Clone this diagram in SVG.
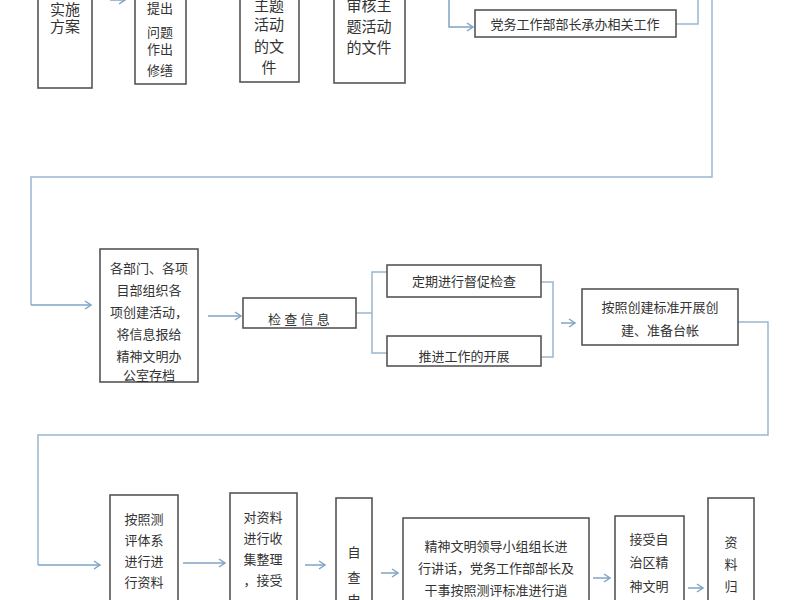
<svg xmlns="http://www.w3.org/2000/svg" width="800" height="600" viewBox="0 0 800 600">
<defs>
<marker id="ar" markerWidth="10" markerHeight="10" refX="8" refY="5" orient="auto" markerUnits="userSpaceOnUse"><path d="M2,1 L8,5 L2,9" fill="none" stroke="#7fa3c4" stroke-width="1.5"/></marker>
<style>
.b{fill:#fff;stroke:#555;stroke-width:1.6}
text{font-family:"Liberation Serif","Noto Sans CJK SC",serif;font-size:13px;fill:#333;text-anchor:middle}
.big{font-size:15px}
.c{fill:none;stroke:#9ab6cf;stroke-width:1.5}
.a{fill:none;stroke:#7fa3c4;stroke-width:1.5;marker-end:url(#ar)}
</style>
</defs>
<rect width="800" height="600" fill="#fff"/>
<g id="connectors">
<path class="a" d="M110,0 L125,0"/>
<path class="a" d="M449,0 L449,27 L473,27"/>
<path class="c" d="M676,24 L698,24 L698,0"/>
<path class="c" d="M712,0 L712,177 L31,177 L31,305"/>
<path class="a" d="M31,305 L91,305"/>
<path class="a" d="M208,316 L241,316"/>
<path class="c" d="M356,313 L372,313 M387,272 L372,272 L372,353 L387,353"/>
<path class="c" d="M541,282 L553,282 L553,357 L541,357"/>
<path class="a" d="M561,323 L575,323"/>
<path class="c" d="M738,322 L768,322 L768,435 L38,435 L38,565"/>
<path class="a" d="M38,565 L100,565"/>
<path class="a" d="M183,563 L225,563"/>
<path class="a" d="M305,565 L325,565"/>
<path class="a" d="M381,573 L398,573"/>
<path class="a" d="M593,578 L610,578"/>
<path class="a" d="M688,588 L703,588"/>
</g>
<g id="n1"><rect class="b" x="38" y="-5" width="54" height="93"/><text class="big" x="65" y="15">实施</text><text class="big" x="65" y="32">方案</text></g>
<g id="n2"><rect class="b" x="135" y="-5" width="51" height="89"/><text x="160" y="13">提出</text><text x="160" y="37">问题</text><text x="160" y="54">作出</text><text x="160" y="75">修缮</text></g>
<g id="n3"><rect class="b" x="240" y="-5" width="59" height="87"/><text class="big" x="269" y="11">主题</text><text class="big" x="269" y="30">活动</text><text class="big" x="269" y="52">的文</text><text class="big" x="269" y="73">件</text></g>
<g id="n4"><rect class="b" x="334" y="-5" width="71" height="88"/><text class="big" x="369" y="11">审核主</text><text class="big" x="369" y="32">题活动</text><text class="big" x="369" y="53">的文件</text></g>
<g id="n5"><rect class="b" x="475" y="10" width="201" height="27"/><text x="575" y="29">党务工作部部长承办相关工作</text></g>
<g id="n6"><rect class="b" x="100" y="249" width="98" height="133"/><text x="149" y="273">各部门、各项</text><text x="149" y="295">目部组织各</text><text x="149" y="317">项创建活动，</text><text x="149" y="339">将信息报给</text><text x="149" y="361">精神文明办</text><text x="149" y="380">公室存档</text></g>
<g id="n7"><rect class="b" x="243" y="298" width="113" height="30"/><text x="299" y="324">检 查 信 息</text></g>
<g id="n8"><rect class="b" x="387" y="265" width="154" height="32"/><text x="464" y="286">定期进行督促检查</text></g>
<g id="n9"><rect class="b" x="387" y="336" width="154" height="30"/><text x="464" y="361">推进工作的开展</text></g>
<g id="n10"><rect class="b" x="582" y="289" width="156" height="56"/><text x="660" y="312">按照创建标准开展创</text><text x="660" y="335">建、准备台帐</text></g>
<g id="n11"><rect class="b" x="110" y="495" width="68" height="110"/><text x="144" y="524">按照测</text><text x="144" y="545">评体系</text><text x="144" y="566">进行进</text><text x="144" y="587">行资料</text></g>
<g id="n12"><rect class="b" x="230" y="493" width="67" height="112"/><text x="263" y="522">对资料</text><text x="263" y="543">进行收</text><text x="263" y="564">集整理</text><text x="263" y="585">，接受</text></g>
<g id="n13"><rect class="b" x="336" y="498" width="36" height="107"/><text x="354" y="557">自</text><text x="354" y="582">查</text><text x="354" y="605">申</text></g>
<g id="n14"><rect class="b" x="403" y="518" width="186" height="87"/><text x="496" y="551">精神文明领导小组组长进</text><text x="496" y="573">行讲话，党务工作部部长及</text><text x="496" y="595">干事按照测评标准进行逍</text></g>
<g id="n15"><rect class="b" x="615" y="516" width="69" height="89"/><text x="649" y="544">接受自</text><text x="649" y="567">治区精</text><text x="649" y="591">神文明</text></g>
<g id="n16"><rect class="b" x="708" y="498" width="46" height="107"/><text x="731" y="547">资</text><text x="731" y="569">料</text><text x="731" y="591">归</text></g>
</svg>
